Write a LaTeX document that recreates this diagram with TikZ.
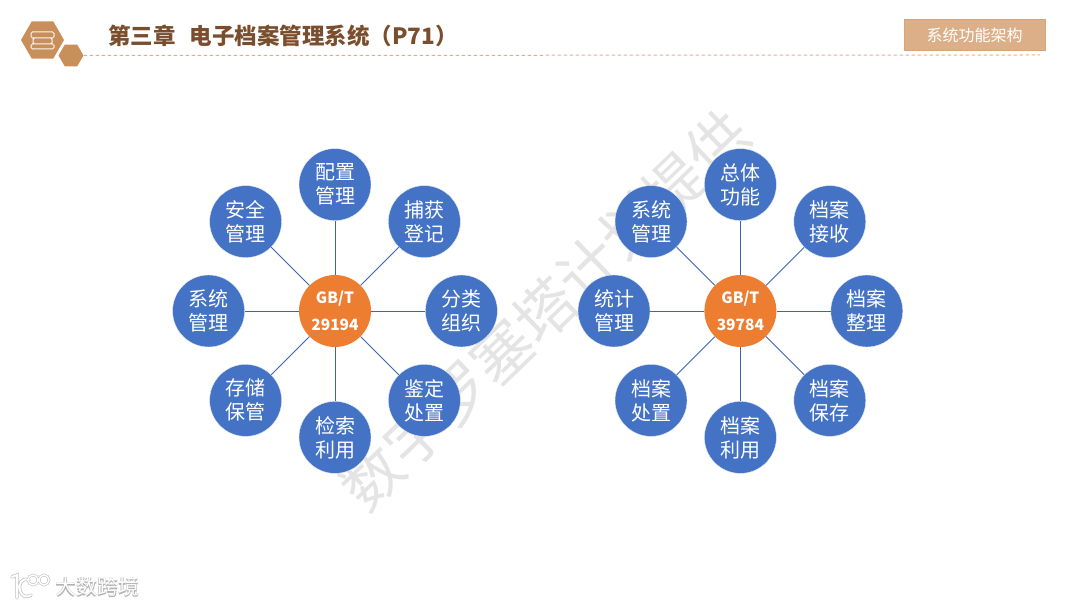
\documentclass[tikz,border=0pt]{standalone}
\usepackage{xcolor}
\usepackage{fontspec}
\setmainfont{Noto Sans CJK SC}
\usetikzlibrary{
  shapes.geometric,
  positioning
}
\definecolor{bkBlue}{HTML}{4472C4}
\definecolor{bkLine}{HTML}{3D64AC}
\definecolor{bkOrange}{HTML}{ED7D31}
\definecolor{bkHex}{HTML}{C98F5B}
\definecolor{bkTitle}{HTML}{7A4E2D}
\definecolor{bkDash}{HTML}{DDB096}
\definecolor{bkTag}{HTML}{DDAF88}
\definecolor{bkMark}{HTML}{E4E4E4}
\tikzset{
  topic/.style={
    draw=white!85!bkBlue, circle, fill=bkBlue, text=white, minimum size=72pt, inner sep=0pt,
    align=center, font=\fontsize{20}{24}\selectfont,
    execute at begin node={\rule{0pt}{23pt}}
  },
  core/.style={
    circle, fill=bkOrange, text=white, minimum size=72pt, inner sep=0pt,
    align=center, font=\fontsize{15.5}{27}\selectfont\bfseries
  },
  spoke/.style={draw=bkLine, line width=0.9pt},
  hexa/.style={regular polygon, regular polygon sides=6, fill=bkHex, inner sep=0pt},
  bookline/.style={draw=white!92!bkHex, line width=1pt, rounded corners=1.5pt},
  logoline/.style={draw=white, line width=2pt, line cap=round},
  logohalo/.style={draw=black!25, line width=3.4pt, line cap=round}
}
\begin{document}
\begin{tikzpicture}[x=1pt, y=1pt, node distance=54pt]
  \useasboundingbox (0,0) rectangle (1080,607);
  % watermark
  \node[rotate=44, text=bkMark, inner sep=0pt, font=\fontsize{60}{62}\selectfont] (mark) at (545,297) {数字罗塞塔计划提供};
  % header
  \node[hexa, minimum size=43pt] (hexbig) at (42.5,567) {};
  \node[hexa, minimum size=25pt] (hexsmall) at (71,551.5) {};
  \draw[bookline] (33,575) -- (52,575) (31,569) rectangle (54,575) (33,563) rectangle (52,569) (31,558) rectangle (54,563);
  \coordinate (dashend) at (1040,552);
  \draw[bkDash, line width=1pt, dash pattern=on 3.5pt off 2.5pt] (hexsmall.east) -- (dashend);
  \node[anchor=west, inner sep=0pt, text=bkTitle, font=\fontsize{22.5}{24}\selectfont\bfseries] (title) at (108,571) {第三章\hspace{14pt}电子档案管理系统（P71）};
  \node[draw=bkHex!80, fill=bkTag, text=white, minimum width=141pt, minimum height=31pt, inner sep=0pt, font=\fontsize{16}{18}\selectfont] (tag) at (974.5,572) {系统功能架构};

  % left group
  \node[core] (coreA) at (335,296) {GB/T\\29194};
  \node[topic, above=of coreA] (a1) {配置\\管理};
  \node[topic, above right=of coreA] (a2) {捕获\\登记};
  \node[topic, right=of coreA] (a3) {分类\\组织};
  \node[topic, below right=of coreA] (a4) {鉴定\\处置};
  \node[topic, below=of coreA] (a5) {检索\\利用};
  \node[topic, below left=of coreA] (a6) {存储\\保管};
  \node[topic, left=of coreA] (a7) {系统\\管理};
  \node[topic, above left=of coreA] (a8) {安全\\管理};
  \draw[spoke] (coreA) -- (a1);
  \draw[spoke] (coreA) -- (a2);
  \draw[spoke] (coreA) -- (a3);
  \draw[spoke] (coreA) -- (a4);
  \draw[spoke] (coreA) -- (a5);
  \draw[spoke] (coreA) -- (a6);
  \draw[spoke] (coreA) -- (a7);
  \draw[spoke] (coreA) -- (a8);

  % right group
  \node[core, right=333pt of coreA] (coreB) {GB/T\\39784};
  \node[topic, above=of coreB] (b1) {总体\\功能};
  \node[topic, above right=of coreB] (b2) {档案\\接收};
  \node[topic, right=of coreB] (b3) {档案\\整理};
  \node[topic, below right=of coreB] (b4) {档案\\保存};
  \node[topic, below=of coreB] (b5) {档案\\利用};
  \node[topic, below left=of coreB] (b6) {档案\\处置};
  \node[topic, left=of coreB] (b7) {统计\\管理};
  \node[topic, above left=of coreB] (b8) {系统\\管理};
  \draw[spoke] (coreB) -- (b1);
  \draw[spoke] (coreB) -- (b2);
  \draw[spoke] (coreB) -- (b3);
  \draw[spoke] (coreB) -- (b4);
  \draw[spoke] (coreB) -- (b5);
  \draw[spoke] (coreB) -- (b6);
  \draw[spoke] (coreB) -- (b7);
  \draw[spoke] (coreB) -- (b8);

  % logo
  \draw[logohalo] (12,30) -- (17,32) -- (17,9) (29,27) .. controls (21,30) and (18,22) .. (20,16) .. controls (22,10) and (27,9) .. (31,12);
  \draw[logohalo, line width=2.6pt] (33,27) circle (5) (44,27) circle (5);
  \draw[logoline] (12,30) -- (17,32) -- (17,9) (29,27) .. controls (21,30) and (18,22) .. (20,16) .. controls (22,10) and (27,9) .. (31,12);
  \draw[logoline, line width=1.4pt] (33,27) circle (5) (44,27) circle (5);
  \node[anchor=west, inner sep=0pt, text=black!30, font=\fontsize{21}{24}\selectfont\bfseries] (logoshade) at (55.6,19.4) {大数跨境};
  \node[anchor=west, inner sep=0pt, text=white, font=\fontsize{21}{24}\selectfont] (logotext) at (55,20) {大数跨境};
\end{tikzpicture}
\end{document}
